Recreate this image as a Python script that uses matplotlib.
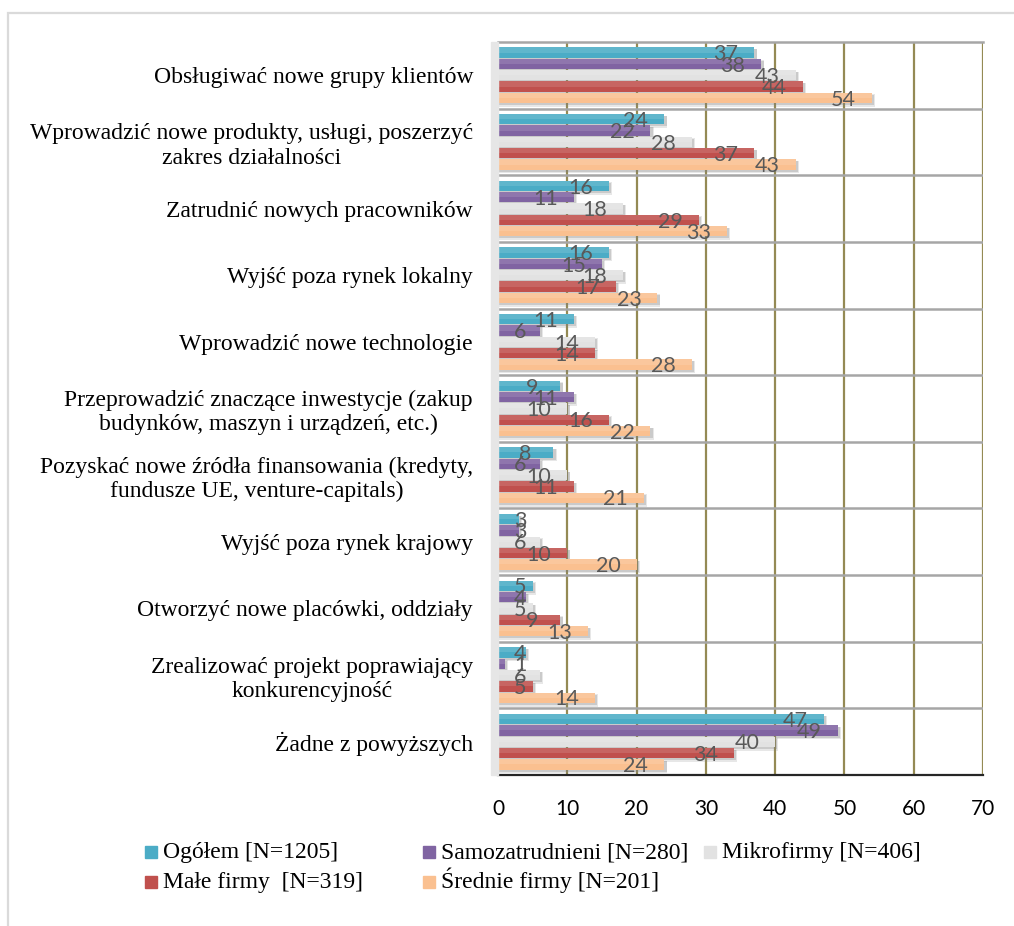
import matplotlib.pyplot as plt
from matplotlib.patches import Rectangle
import numpy as np

categories = [
    "Obsługiwać nowe grupy klientów",
    "Wprowadzić nowe produkty, usługi, poszerzyć\nzakres działalności",
    "Zatrudnić nowych pracowników",
    "Wyjść poza rynek lokalny",
    "Wprowadzić nowe technologie",
    "Przeprowadzić znaczące inwestycje (zakup\nbudynków, maszyn i urządzeń, etc.)",
    "Pozyskać nowe źródła finansowania (kredyty,\nfundusze UE, venture-capitals)",
    "Wyjść poza rynek krajowy",
    "Otworzyć nowe placówki, oddziały",
    "Zrealizować projekt poprawiający\nkonkurencyjność",
    "Żadne z powyższych",
]

ogolem = [37, 24, 16, 16, 11, 9, 8, 3, 5, 4, 47]
samozatrudnieni = [38, 22, 11, 15, 6, 11, 6, 3, 4, 1, 49]
mikrofirmy = [43, 28, 18, 18, 14, 10, 10, 6, 5, 6, 40]
male_firmy = [44, 37, 29, 17, 14, 16, 11, 10, 9, 5, 34]
srednie_firmy = [54, 43, 33, 23, 28, 22, 21, 20, 13, 14, 24]

series_names = ["Ogółem [N=1205]", "Samozatrudnieni [N=280]", "Mikrofirmy [N=406]",
                "Małe firmy  [N=319]", "Średnie firmy [N=201]"]
series_colors = ["#4BACC6", "#8064A2", "#E2E2E2", "#C0504D", "#FAC090"]
series_values = [ogolem, samozatrudnieni, mikrofirmy, male_firmy, srednie_firmy]

W, H = 1014, 926
fig = plt.figure(figsize=(W / 100, H / 100), dpi=100)
fig.patch.set_facecolor("white")

# outer chart frame (only top and left edges visible)
fig.patches.append(Rectangle((8 / W, -0.1), 1.2, 1 - 13 / H + 0.1, transform=fig.transFigure,
                             fill=False, edgecolor="#DADADA", lw=1.6))

x0, x1, y0, y1 = 498, 983, 42, 775
ax = fig.add_axes([x0 / W, 1 - y1 / H, (x1 - x0) / W, (y1 - y0) / H])

# side wall strip to the left of the plot
fig.patches.append(Rectangle((491 / W, 1 - y1 / H), 7 / W, (y1 - y0) / H,
                             transform=fig.transFigure, color="#E6E6E6", zorder=0))

n = len(categories)
slot = 0.17
bar_h = 0.155
centers = np.arange(n) + 0.5

for j, (vals, col) in enumerate(zip(series_values, series_colors)):
    ypos = centers + (j - 2) * slot
    vals = np.array(vals, dtype=float)
    # soft drop shadow
    ax.barh(ypos + 0.04, vals + 0.3, height=bar_h + 0.03, left=0.15,
            color="#7F7F7F", alpha=0.18, lw=0, zorder=2)
    ax.barh(ypos + 0.03, vals + 0.12, height=bar_h, left=0.2,
            color="#7F7F7F", alpha=0.28, lw=0, zorder=2)
    ax.barh(ypos, vals, height=bar_h, color=col, lw=0, zorder=3)
    # lighter upper half for a bit of sheen
    ax.barh(ypos - bar_h / 4, vals, height=bar_h / 2, color="white", alpha=0.12, lw=0, zorder=3.5)
    for y, v in zip(ypos, vals):
        ax.text(max(v - 4.1, 3.2), y + 0.025, f"{int(v)}", ha="center", va="center",
                fontsize=15.5, family="Lato", color="#595959", zorder=5)

ax.set_xlim(0, 70)
ax.set_ylim(n, 0)

for gx in range(10, 71, 10):
    ax.axvline(gx, color="#948A54", lw=1.6, zorder=1)
for b in range(1, n):
    ax.axhline(b, color="#A6A6A6", lw=1.8, zorder=1)

ax.set_xticks(range(0, 71, 10))
ax.set_xticklabels([str(v) for v in range(0, 71, 10)], fontsize=15, family="Lato")
ax.set_yticks(centers)
ax.set_yticklabels(categories, fontsize=17, family="Liberation Serif",
                   multialignment="center")
ax.tick_params(axis="both", length=0)
ax.tick_params(axis="x", pad=17)
ax.tick_params(axis="y", pad=18)

ax.spines["left"].set_visible(False)
ax.spines["right"].set_visible(False)
ax.spines["top"].set_color("#A6A6A6")
ax.spines["top"].set_linewidth(1.8)
ax.spines["bottom"].set_color("#262626")
ax.spines["bottom"].set_linewidth(1.6)

# legend: three equal-width columns, two rows, row-major order
col_x = [145, 423, 704]
row_base = [858, 888]
box = 12
for k, (name, col) in enumerate(zip(series_names, series_colors)):
    r, c = divmod(k, 3)
    lx, ly = col_x[c], row_base[r]
    fig.patches.append(Rectangle((lx / W, 1 - ly / H), box / W, box / H,
                                 transform=fig.transFigure, color=col))
    fig.text((lx + box + 6) / W, 1 - ly / H, name, ha="left", va="baseline",
             fontsize=17, family="Liberation Serif", color="black")

fig.savefig("out.png", dpi=100, facecolor="white")
